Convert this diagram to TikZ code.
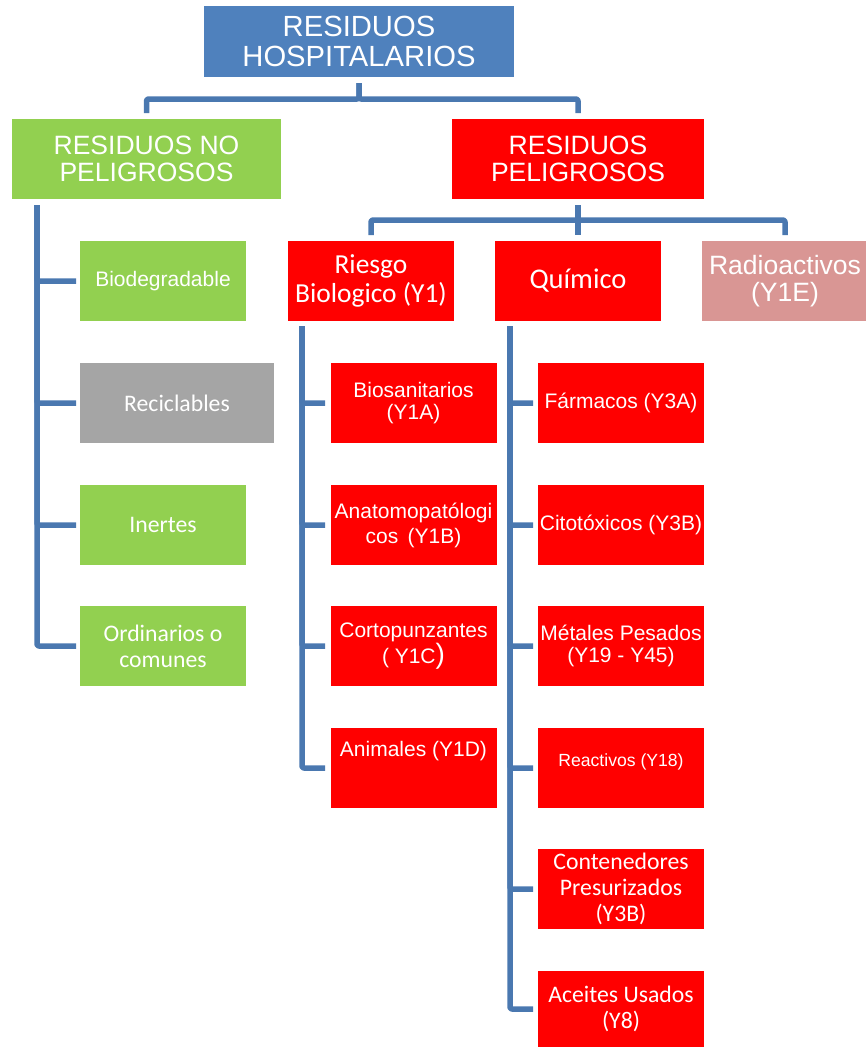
\documentclass[tikz,border=0pt]{standalone}
\usepackage{fontspec}
\setmainfont{Liberation Sans}
\newfontfamily\calib{Carlito}
\usetikzlibrary{calc}
\definecolor{hblue}{HTML}{4F81BD}
\definecolor{hgreen}{HTML}{92D050}
\definecolor{hred}{HTML}{FF0000}
\definecolor{hgrey}{HTML}{A5A5A5}
\definecolor{hpink}{HTML}{D99694}
\definecolor{conncol}{HTML}{4A78B0}
\begin{document}
\begin{tikzpicture}[x=0.75pt,y=-0.75pt,
  box/.style={rectangle, inner sep=0pt, outer sep=0pt, text=white, align=center},
  w/.style={minimum width=#1*0.75pt},
  h/.style={minimum height=#1*0.75pt},
  conn/.style={draw=conncol, line width=4.125pt, line join=round, rounded corners=1.5pt},
  fA/.style={font=\fontsize{15.75}{16.5}\selectfont},
  fC/.style={font=\calib\fontsize{17.8}{19.5}\selectfont},
  fH/.style={font=\fontsize{19.9}{20.25}\selectfont}
]
\useasboundingbox (0,0) rectangle (865,1047);

% level 0 and 1
\node[box, fill=hblue, w=310, h=71, font=\fontsize{21.9}{22.5}\selectfont] (top) at (359,41.5) {RESIDUOS\\HOSPITALARIOS};
\node[box, fill=hgreen, w=269, h=80, fH] (nonpel) at (146.5,159) {RESIDUOS NO\\PELIGROSOS};
\node[box, fill=hred, w=252, h=80, fH] (pel) at (578,159) {RESIDUOS\\PELIGROSOS};

% level 2
\node[box, fill=hred, w=166, h=80, font=\calib\fontsize{20.6}{21.3}\selectfont] (riesgo) at (371,281) {Riesgo\\Biologico (Y1)};
\node[box, fill=hred, w=166, h=80, font=\calib\fontsize{21.4}{22}\selectfont] (quimico) at (578,281) {Químico};
\node[box, fill=hpink, w=166, h=80, font=\fontsize{19.9}{20}\selectfont] (radio) at (785,281) {Radioactivos\\(Y1E)};

% non hazardous children
\node[box, fill=hgreen, w=166, h=80, fA] (bio) at (163,281) {Biodegradable};
\node[box, fill=hgrey, w=194, h=80, fC] (recic) at (177,403) {Reciclables};
\node[box, fill=hgreen, w=166, h=80, fC] (inert) at (163,525) {Inertes};
\node[box, fill=hgreen, w=166, h=80, fC] (ordin) at (163,646) {Ordinarios o\\comunes};

% biological children
\node[box, fill=hred, w=166, h=80, fA] (y1a) at (413.5,403) {Biosanitarios\\(Y1A)};
\node[box, fill=hred, w=166, h=80, font=\fontsize{15.75}{18.75}\selectfont] (y1b) at (413.5,525) {Anatomopatólogi\\cos\hspace{7pt}(Y1B)};
\node[box, fill=hred, w=166, h=80, fA] (y1c) at (413.5,646) {Cortopunzantes\\( Y1C{\fontsize{21}{21}\selectfont )}};
\node[box, fill=hred, w=166, h=80] (y1d) at (413.5,768) {};
\node[anchor=base, text=white, inner sep=0pt, fA] (y1dtext) at (413.5,756) {Animales (Y1D)};

% chemical children
\node[box, fill=hred, w=166, h=80, fA] (y3a) at (621,403) {Fármacos (Y3A)};
\node[box, fill=hred, w=166, h=80, fA] (y3b) at (621,525) {Citotóxicos (Y3B)};
\node[box, fill=hred, w=166, h=80, fA] (met) at (621,646) {Métales Pesados\\(Y19 - Y45)};
\node[box, fill=hred, w=166, h=80, font=\fontsize{13.2}{14}\selectfont] (y18) at (621,768) {\raisebox{1.5pt}[0pt][0pt]{Reactivos (Y18)}};
\node[box, fill=hred, w=166, h=80, fC] (cont) at (621,889) {Contenedores\\Presurizados\\(Y3B)};
\node[box, fill=hred, w=166, h=76, fC] (aceit) at (621,1009) {Aceites Usados\\(Y8)};

% connectors level 0 -> 1
\draw[conn, shorten <=4.5pt, shorten >=4.5pt] (top.south) -- ++(0,22) -| (nonpel.north);
\draw[conn, shorten <=4.5pt, shorten >=4.5pt] (top.south) -- ++(0,22) -| (pel.north);

% connectors level 1 -> 2
\draw[conn, shorten <=4.5pt, shorten >=4.5pt] (pel.south) -- ++(0,21) -| (riesgo.north);
\draw[conn, shorten <=4.5pt, shorten >=4.5pt] (pel.south) -- ++(0,21) -| (radio.north);
\draw[conn, shorten <=4.5pt, shorten >=4.5pt] (pel.south) -- (quimico.north);

% left column
\foreach \n in {bio,recic,inert,ordin}
  \draw[conn, shorten >=3pt] ([xshift=18.75pt,yshift=-4.5pt]nonpel.south west) |- (\n.west);

% biological column
\foreach \n in {y1a,y1b,y1c,y1d}
  \draw[conn, shorten >=4.1pt] ([xshift=10.5pt,yshift=-3.75pt]riesgo.south west) |- (\n.west);

% chemical column
\foreach \n in {y3a,y3b,met,y18,cont,aceit}
  \draw[conn, shorten >=3.75pt] ([xshift=11.25pt,yshift=-3.75pt]quimico.south west) |- (\n.west);
\end{tikzpicture}
\end{document}
